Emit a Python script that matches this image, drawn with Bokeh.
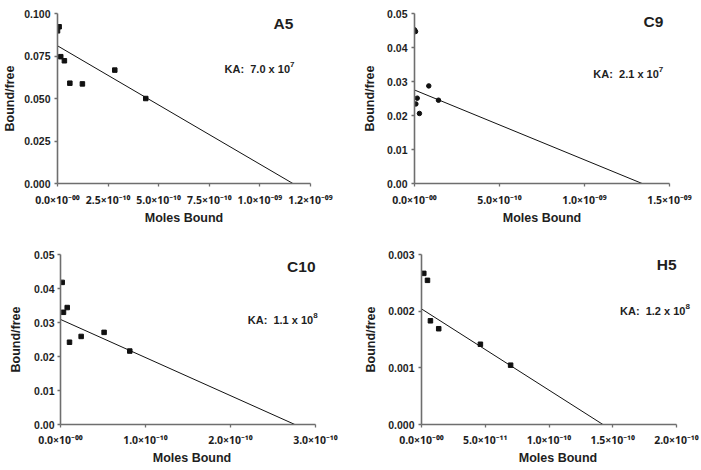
from bokeh.plotting import figure
from bokeh.layouts import column, row
from bokeh.models import Range1d, FixedTicker, CustomJSTickFormatter, Label
from bokeh.embed import file_html
from bokeh.resources import INLINE

FONT = "Liberation Sans"
XFONT = "Noto Sans"

# ---------------- data ----------------
panel_names = ["A5", "C9", "C10", "H5"]
ka_mantissa = ["7.0", "2.1", "1.1", "1.2"]
ka_exponent = ["7", "7", "8", "8"]

a5_x = [0.0, 8e-12, 1.6e-11, 3.4e-11, 6.1e-11, 1.23e-10, 2.83e-10, 4.36e-10]
a5_y = [0.0898, 0.0922, 0.0746, 0.0722, 0.0590, 0.0586, 0.0667, 0.0500]

c9_x = [0.0, 6e-12, 8e-12, 1.6e-11, 2.9e-11, 8.4e-11, 1.41e-10]
c9_y = [0.0452, 0.0447, 0.0234, 0.0251, 0.0206, 0.0287, 0.0245]

c10_x = [2.0e-12, 3.5e-12, 7.9e-12, 1.06e-11, 2.43e-11, 5.13e-11, 8.15e-11]
c10_y = [0.0418, 0.0330, 0.0344, 0.0242, 0.0259, 0.0271, 0.0216]

h5_x = [1.8e-12, 4.7e-12, 7.0e-12, 1.35e-11, 4.62e-11, 6.99e-11]
h5_y = [0.002667, 0.002544, 0.00183, 0.00169, 0.001416, 0.001047]

# fitted Scatchard lines: y-intercept and x-intercept
fit_y0 = [0.0810, 0.0275, 0.0309, 0.00204]
fit_xint = [1.163e-9, 1.339e-9, 2.757e-10, 1.423e-10]

a5_xticks = [0.0, 2.5e-10, 5.0e-10, 7.5e-10, 1.0e-9, 1.25e-9]
a5_xlabels = ["0.0×10⁻⁰⁰", "2.5×10⁻¹⁰", "5.0×10⁻¹⁰", "7.5×10⁻¹⁰", "1.0×10⁻⁰⁹", "1.2×10⁻⁰⁹"]
a5_yticks = [0.0, 0.025, 0.05, 0.075, 0.1]
a5_ylabels = ["0.000", "0.025", "0.050", "0.075", "0.100"]

c9_xticks = [0.0, 5.0e-10, 1.0e-9, 1.5e-9]
c9_xlabels = ["0.0×10⁻⁰⁰", "5.0×10⁻¹⁰", "1.0×10⁻⁰⁹", "1.5×10⁻⁰⁹"]
c9_yticks = [0.0, 0.01, 0.02, 0.03, 0.04, 0.05]
c9_ylabels = ["0.00", "0.01", "0.02", "0.03", "0.04", "0.05"]

c10_xticks = [0.0, 1.0e-10, 2.0e-10, 3.0e-10]
c10_xlabels = ["0.0×10⁻⁰⁰", "1.0×10⁻¹⁰", "2.0×10⁻¹⁰", "3.0×10⁻¹⁰"]
c10_yticks = [0.0, 0.01, 0.02, 0.03, 0.04, 0.05]
c10_ylabels = ["0.00", "0.01", "0.02", "0.03", "0.04", "0.05"]

h5_xticks = [0.0, 5.0e-11, 1.0e-10, 1.5e-10, 2.0e-10]
h5_xlabels = ["0.0×10⁻⁰⁰", "5.0×10⁻¹¹", "1.0×10⁻¹⁰", "1.5×10⁻¹⁰", "2.0×10⁻¹⁰"]
h5_yticks = [0.0, 0.001, 0.002, 0.003]
h5_ylabels = ["0.000", "0.001", "0.002", "0.003"]

x_title = "Moles Bound"
y_title = "Bound/free"

# ---------------- drawing ----------------
TICK_JS = """
let best = 0;
for (let i = 0; i < tvals.length; i++) {
  if (Math.abs(tvals[i] - tick) < Math.abs(tvals[best] - tick)) best = i;
}
return tlabels[best];
"""

FRAME_W = 255


def fmt(ticks, labels):
    return CustomJSTickFormatter(args=dict(tvals=ticks, tlabels=labels), code=TICK_JS)


def style_axis(ax, ticks, labels, title, font, size):
    ax.ticker = FixedTicker(ticks=ticks)
    ax.formatter = fmt(ticks, labels)
    ax.bounds = (ticks[0], ticks[-1])
    ax.axis_label = title
    ax.axis_label_text_font = FONT
    ax.axis_label_text_font_style = "bold"
    ax.axis_label_text_font_size = "12.5px"
    ax.axis_label_text_color = "#1e1e1e"
    ax.major_label_text_font = font
    ax.major_label_text_font_style = "bold"
    ax.major_label_text_font_size = size
    ax.major_label_text_color = "#1e1e1e"
    ax.axis_line_color = "#6e6e6e"
    ax.axis_line_width = 1.6
    ax.major_tick_line_color = "#6e6e6e"
    ax.major_tick_line_width = 1.3
    ax.major_tick_in = 0
    ax.major_tick_out = 3
    ax.minor_tick_line_color = None


def make_panel(i, xs, ys, marker, msize, xticks, xlabels, yticks, ylabels,
               w, h, bl, bt, fh, ext, name_pos, ka_pos, xstand, ystand):
    xmax = xticks[-1]
    p = figure(width=w, height=h,
               x_range=Range1d(xticks[0], xmax * (FRAME_W + ext) / FRAME_W),
               y_range=Range1d(yticks[0], yticks[-1]),
               output_backend="svg", toolbar_location=None,
               min_border_left=bl, min_border_right=w - bl - FRAME_W - ext,
               min_border_top=bt, min_border_bottom=h - bt - fh)
    p.outline_line_color = None
    p.grid.visible = False
    p.background_fill_color = "white"
    p.border_fill_color = "white"

    xa = p.xaxis[0]
    ya = p.yaxis[0]
    style_axis(xa, xticks, xlabels, x_title, XFONT, "10.5px")
    style_axis(ya, yticks, ylabels, y_title, FONT, "10.5px")
    xa.major_label_standoff = xstand[0]
    xa.axis_label_standoff = xstand[1]
    ya.major_label_standoff = ystand[0]
    ya.axis_label_standoff = ystand[1]

    p.line([0.0, fit_xint[i]], [fit_y0[i], 0.0], line_color="#111111", line_width=1.0)
    p.scatter(xs, ys, marker=marker, size=msize, fill_color="#111111",
              line_color="#111111")

    yr = yticks[-1]
    p.add_layout(Label(x=name_pos[0] * xmax, y=name_pos[1] * yr, text=panel_names[i],
                       text_font=FONT, text_font_style="bold", text_font_size="15.5px",
                       text_color="#1e1e1e", text_align="right",
                       text_baseline="alphabetic"))
    p.add_layout(Label(x=ka_pos[0] * xmax, y=ka_pos[1] * yr,
                       text="KA:\u00a0\u00a0" + ka_mantissa[i] + " x 10",
                       text_font=FONT, text_font_style="bold", text_font_size="11px",
                       text_color="#1e1e1e", text_align="right",
                       text_baseline="alphabetic"))
    p.add_layout(Label(x=ka_pos[0] * xmax, y=ka_pos[1] * yr, x_offset=0.0, y_offset=4.7,
                       text=ka_exponent[i],
                       text_font=FONT, text_font_style="bold", text_font_size="8px",
                       text_color="#1e1e1e", text_align="left",
                       text_baseline="alphabetic"))
    return p


p1 = make_panel(0, a5_x, a5_y, "square", 4.5, a5_xticks, a5_xlabels, a5_yticks, a5_ylabels,
                350, 235, 55, 13, 171, 0, (0.932, 0.941), (0.919, 0.674), (6, 1), (4, 4))
p2 = make_panel(1, c9_x, c9_y, "circle", 4.5, c9_xticks, c9_xlabels, c9_yticks, c9_ylabels,
                351, 235, 64, 13, 170, 0, (0.976, 0.955), (0.958, 0.645), (6, 1), (4, 7))
p3 = make_panel(2, c10_x, c10_y, "square", 4.5, c10_xticks, c10_xlabels, c10_yticks, c10_ylabels,
                350, 235, 60, 19, 170, 8, (1.0, 0.927), (0.991, 0.613), (5, 1), (3, 8))
p4 = make_panel(3, h5_x, h5_y, "square", 4.5, h5_xticks, h5_xlabels, h5_yticks, h5_ylabels,
                351, 235, 71, 19, 171, 18, (1.0, 0.94), (1.035, 0.667), (5, 1), (4, 7))

layout = column(row(p1, p2), row(p3, p4))

open("out.html", "w").write(file_html(layout, INLINE))
